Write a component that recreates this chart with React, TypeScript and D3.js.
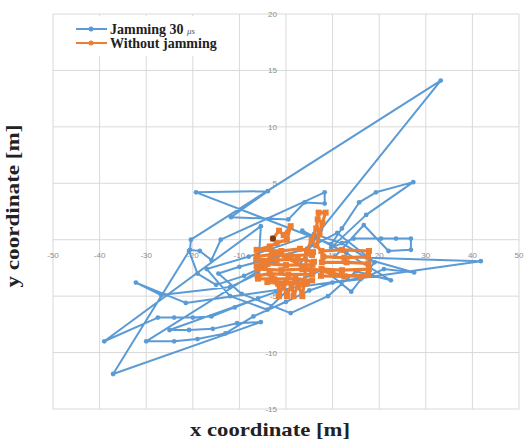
import { useEffect, useRef } from "react";
import * as d3 from "d3";

// tick values
const xTicks = [-50, -40, -30, -20, -10, 0, 10, 20, 30, 40, 50];
const yTicks = [-15, -10, -5, 0, 5, 10, 15, 20];

// series names
const seriesNames = ["Jamming 30 ", "Without jamming"];

// trajectory with jamming [x, y] in metres
const jammingPath: [number, number][] = [
  [3.0, -2.2], [7.5, 0.9], [33.2, 14.1], [-20.4, 0.0], [-20.6, -0.9],
  [-18.5, -1.0], [-16.0, -1.8], [-14.0, 0.0], [8.3, 4.2], [8.3, 3.2],
  [4.0, 3.3], [0.5, 1.8], [-11.8, 2.0], [-3.9, 4.3], [-19.3, 4.2],
  [9.7, -0.4], [12.0, 1.0], [15.7, 3.3], [19.3, 4.2], [27.3, 5.1],
  [17.2, 2.2], [9.7, -0.7], [14.5, 0.1], [20.4, 0.1], [23.6, 0.1],
  [26.8, 0.1], [26.8, -0.9], [22.0, -1.0], [16.7, 1.3], [10.5, -1.5],
  [41.8, -1.9], [-21.5, -5.6], [-32.2, -3.8], [-26.8, -4.9], [-12.0, -4.2],
  [-6.0, -3.0], [-5.4, 1.2], [-39.0, -9.0], [-27.5, -6.9], [-24.0, -6.9],
  [-20.0, -6.9], [-16.0, -6.8], [-11.0, -6.0], [-6.0, -5.2], [-2.0, -4.6],
  [-25.0, -8.0], [-20.8, -8.0], [-15.7, -7.9], [-10.5, -7.4], [-5.4, -7.3],
  [-37.1, -11.9], [-20.8, -1.0], [-19.0, -3.0], [-15.0, -4.0], [-9.0, -3.2],
  [-3.0, -2.0], [-30.0, -9.0], [-24.0, -9.0], [-19.0, -8.8], [-13.0, -8.3],
  [-7.0, -6.8], [0.0, -5.5], [5.0, -4.5], [10.0, -3.8], [16.0, -3.5],
  [21.0, -2.6], [27.5, -2.9], [18.0, -1.8], [12.0, -0.3], [6.0, 0.5],
  [-8.0, -1.5], [-17.0, -2.6], [-12.0, -5.0], [-4.0, -6.2], [2.0, -3.8],
  [8.0, -2.6], [14.0, -4.6], [19.0, -2.0], [11.0, 0.6], [4.5, -0.8],
  [-10.0, -2.4], [-14.5, -3.0], [-9.5, -4.8], [1.0, -6.5], [9.0, -5.0],
  [15.0, -2.8], [22.5, -3.6], [13.0, -1.2], [3.5, 0.8],
];

// trajectory without jamming [x, y] in metres
const cleanPath: [number, number][] = [
  [-2.8, 0.1], [-1.5, 0.8], [-0.5, 0.4], [1.0, 1.2], [0.2, 0.0], [-2.0, -0.3],
  [-3.5, -0.6], [-6.3, -0.9], [-1.0, -1.0], [3.0, -0.8], [5.8, -1.1],
  [5.6, -1.35], [1.0, -1.4], [-3.0, -1.3], [-6.2, -1.5], [-6.4, -1.75],
  [-2.0, -1.8], [2.5, -1.7], [6.0, -1.95], [5.7, -2.2], [0.0, -2.25],
  [-4.0, -2.15], [-6.3, -2.35], [-6.1, -2.6], [-1.0, -2.7], [3.5, -2.6],
  [5.8, -2.8], [5.6, -3.05], [0.5, -3.1], [-3.5, -3.0], [-6.1, -3.2],
  [-6.0, -3.45], [-2.5, -3.5], [2.0, -3.45], [5.6, -3.6], [4.5, -3.85],
  [0.0, -3.8], [-4.0, -3.75], [-1.7, -3.9], [-1.5, -5.0], [-0.6, -4.0],
  [0.2, -5.0], [1.2, -3.9], [1.6, -5.0], [2.6, -4.0], [3.5, -5.0],
  [3.9, -3.9], [4.5, -1.0], [5.5, 0.0], [6.5, 1.0], [6.8, 1.8], [7.0, 2.4],
  [8.5, 2.4], [7.8, 1.5], [7.2, 0.5], [6.5, -0.5], [7.6, -1.0],
  [12.0, -0.9], [17.8, -1.0], [17.6, -1.5], [12.5, -1.6], [8.0, -1.5],
  [7.7, -2.0], [13.0, -2.0], [17.7, -2.1], [17.8, -2.6], [12.0, -2.7],
  [7.6, -2.6], [7.5, -3.2], [12.5, -3.25], [17.6, -3.1], [16.0, -3.3],
  [10.0, -3.0], [4.0, -2.4], [-2.0, -1.2], [-5.0, -2.0], [-3.0, -3.3],
];

const BLUE = "#5B9BD5";
const ORANGE = "#ED7D31";

export default function App() {
  const ref = useRef<SVGSVGElement>(null);

  useEffect(() => {
    if (!ref.current) return;
    const svg = d3.select(ref.current);
    svg.selectAll("*").remove();

    const x = d3.scaleLinear().domain([-50, 50]).range([53, 519]);
    const y = d3.scaleLinear().domain([-15, 20]).range([409, 14]);

    // gridlines
    svg.append("g").selectAll("line").data(xTicks).join("line")
      .attr("x1", d => x(d)).attr("x2", d => x(d))
      .attr("y1", y(20)).attr("y2", y(-15))
      .attr("stroke", "#D9D9D9").attr("stroke-width", 1);
    svg.append("g").selectAll("line").data(yTicks).join("line")
      .attr("x1", x(-50)).attr("x2", x(50))
      .attr("y1", d => y(d)).attr("y2", d => y(d))
      .attr("stroke", "#D9D9D9").attr("stroke-width", 1);

    // tick labels
    svg.append("g").selectAll("text").data(xTicks.filter(d => d !== 0)).join("text")
      .attr("x", d => x(d)).attr("y", y(0) + 18)
      .attr("text-anchor", "middle")
      .attr("font-family", "Liberation Sans, Arial, sans-serif")
      .attr("font-size", 8).attr("fill", "#8C8C8C")
      .text(d => d);
    svg.append("g").selectAll("text").data(yTicks.filter(d => d !== 0)).join("text")
      .attr("x", x(0) - 9).attr("y", d => y(d) + 3)
      .attr("text-anchor", "end")
      .attr("font-family", "Liberation Sans, Arial, sans-serif")
      .attr("font-size", 8).attr("fill", "#8C8C8C")
      .text(d => d);

    const line = d3.line<[number, number]>().x(d => x(d[0])).y(d => y(d[1]));

    // jamming series
    svg.append("path").datum(jammingPath)
      .attr("d", line).attr("fill", "none")
      .attr("stroke", BLUE).attr("stroke-width", 2).attr("stroke-linejoin", "round");
    svg.append("g").selectAll("circle").data(jammingPath).join("circle")
      .attr("cx", d => x(d[0])).attr("cy", d => y(d[1])).attr("r", 2.4)
      .attr("fill", BLUE);

    // without jamming series
    svg.append("path").datum(cleanPath)
      .attr("d", line).attr("fill", "none")
      .attr("stroke", ORANGE).attr("stroke-width", 3.2).attr("stroke-linejoin", "round");
    svg.append("g").selectAll("rect").data(cleanPath).join("rect")
      .attr("x", d => x(d[0]) - 3).attr("y", d => y(d[1]) - 3)
      .attr("width", 6).attr("height", 6)
      .attr("fill", ORANGE);
    svg.append("circle")
      .attr("cx", x(cleanPath[0][0])).attr("cy", y(cleanPath[0][1])).attr("r", 3)
      .attr("fill", "#7A3A14");

    // legend
    const lg = svg.append("g");
    lg.append("rect").attr("x", 60).attr("y", 16).attr("width", 174).attr("height", 40)
      .attr("fill", "#fff");
    const colors = [BLUE, ORANGE];
    seriesNames.forEach((name, i) => {
      const ly = 29 + i * 14;
      lg.append("line").attr("x1", 76).attr("x2", 107).attr("y1", ly).attr("y2", ly)
        .attr("stroke", colors[i]).attr("stroke-width", 2);
      lg.append("circle").attr("cx", 91).attr("cy", ly).attr("r", 2.5).attr("fill", colors[i]);
      const t = lg.append("text").attr("x", 110).attr("y", ly + 4.5)
        .attr("font-family", "Liberation Serif, Times New Roman, serif")
        .attr("font-weight", "bold").attr("font-size", 14).attr("fill", "#222")
        .text(name);
      if (i === 0) {
        t.append("tspan").attr("font-style", "italic").attr("font-weight", "normal")
          .attr("font-size", 9).attr("fill", "#555").text("μs");
      }
    });

    // axis titles
    svg.append("text")
      .attr("x", 270).attr("y", 436)
      .attr("text-anchor", "middle")
      .attr("font-family", "Liberation Serif, Times New Roman, serif")
      .attr("font-weight", "bold").attr("font-size", 19).attr("fill", "#222")
      .attr("textLength", 160).attr("lengthAdjust", "spacingAndGlyphs")
      .text("x coordinate [m]");
    svg.append("text")
      .attr("transform", "translate(19,206) rotate(-90)")
      .attr("text-anchor", "middle")
      .attr("font-family", "Liberation Serif, Times New Roman, serif")
      .attr("font-weight", "bold").attr("font-size", 18).attr("fill", "#222")
      .attr("textLength", 163).attr("lengthAdjust", "spacingAndGlyphs")
      .text("y coordinate [m]");
  }, []);

  return (
    <svg
      ref={ref}
      width={526}
      height={443}
      style={{ position: "absolute", left: 0, top: 0, background: "#fff" }}
    />
  );
}
